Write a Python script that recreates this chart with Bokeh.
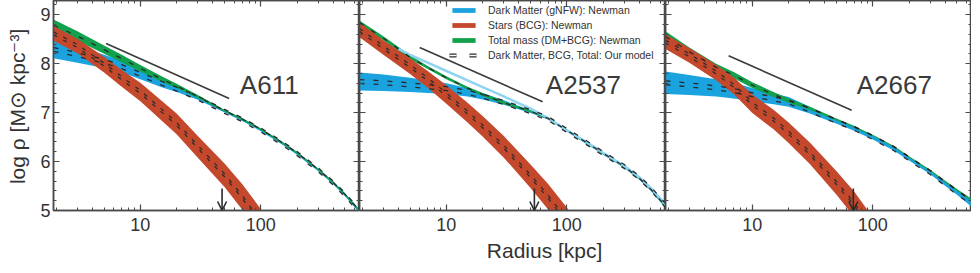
from bokeh.plotting import figure
from bokeh.layouts import row
from bokeh.models import (LogAxis, LinearAxis, FixedTicker, SingleIntervalTicker, Range1d,
                          Legend, LegendItem, Label, Arrow, OpenHead, PrintfTickFormatter)
from bokeh.embed import file_html
from bokeh.resources import INLINE

# ---------------- data (log10 density, radius in kpc) ----------------
R = [1.9, 3, 5, 7, 10, 15, 20, 30, 50, 70, 100, 150, 200, 300, 400, 500, 660]
R_STARS = [1.9, 3, 5, 7, 10, 15, 20, 30, 50, 70, 100, 150]

A611_DM_LO = [8.11, 8.02, 7.91, 7.82, 7.68, 7.52, 7.42, 7.26, 7.00, 6.83, 6.62, 6.35, 6.14, 5.80, 5.53, 5.29, 4.95]
A611_DM_HI = [8.47, 8.35, 8.18, 8.06, 7.88, 7.68, 7.54, 7.33, 7.05, 6.88, 6.67, 6.40, 6.19, 5.86, 5.59, 5.35, 5.02]
A611_TOT_LO = [8.67, 8.47, 8.20, 8.03, 7.84, 7.63, 7.50, 7.30, 7.02, 6.85, 6.64, 6.37, 6.16, 5.82, 5.55, 5.31, 4.98]
A611_TOT_HI = [8.90, 8.66, 8.37, 8.18, 7.97, 7.74, 7.59, 7.36, 7.06, 6.89, 6.68, 6.41, 6.20, 5.86, 5.59, 5.35, 5.02]
A611_BCG_LO = [8.47, 8.21, 7.82, 7.53, 7.23, 6.84, 6.56, 6.08, 5.48, 5.02, 4.47, 3.80]
A611_BCG_HI = [8.77, 8.51, 8.14, 7.87, 7.61, 7.24, 6.98, 6.52, 5.96, 5.54, 5.03, 4.40]

A2537_DM_LO = [7.45, 7.44, 7.42, 7.40, 7.38, 7.33, 7.27, 7.16, 6.99, 6.86, 6.61, 6.34, 6.14, 5.87, 5.63, 5.40, 5.05]
A2537_DM_HI = [7.82, 7.78, 7.71, 7.66, 7.60, 7.50, 7.40, 7.25, 7.05, 6.90, 6.66, 6.39, 6.19, 5.93, 5.70, 5.48, 5.15]
A2537_TOT_LO = [8.80, 8.48, 8.09, 7.89, 7.68, 7.47, 7.34, 7.17, 7.01, 6.86, 6.62, 6.35, 6.15, 5.88, 5.64, 5.41, 5.07]
A2537_TOT_HI = [8.88, 8.56, 8.17, 7.95, 7.74, 7.53, 7.40, 7.23, 7.05, 6.90, 6.66, 6.39, 6.19, 5.92, 5.68, 5.45, 5.11]
A2537_BCG_LO = [8.54, 8.18, 7.79, 7.51, 7.18, 6.80, 6.51, 6.08, 5.46, 5.02, 4.50, 3.85]
A2537_BCG_HI = [8.84, 8.48, 8.11, 7.85, 7.56, 7.20, 6.93, 6.52, 5.94, 5.54, 5.06, 4.45]
A2537_DM_ALT_R = [4, 5, 7, 10, 15, 20, 30, 50, 70, 100, 150, 200, 300, 400, 500, 660]
A2537_DM_ALT = [8.30, 8.18, 8.02, 7.85, 7.66, 7.52, 7.33, 7.08, 6.89, 6.64, 6.38, 6.18, 5.91, 5.68, 5.45, 5.12]

A2667_DM_LO = [7.38, 7.36, 7.33, 7.29, 7.23, 7.17, 7.12, 6.98, 6.77, 6.63, 6.45, 6.22, 6.02, 5.74, 5.50, 5.32, 5.08]
A2667_DM_HI = [7.84, 7.77, 7.68, 7.61, 7.50, 7.39, 7.32, 7.12, 6.87, 6.73, 6.53, 6.30, 6.09, 5.81, 5.58, 5.41, 5.24]
A2667_TOT_LO = [8.45, 8.15, 7.85, 7.70, 7.50, 7.32, 7.20, 7.06, 6.84, 6.69, 6.52, 6.29, 6.08, 5.80, 5.57, 5.40, 5.19]
A2667_TOT_HI = [8.66, 8.33, 8.00, 7.83, 7.62, 7.42, 7.29, 7.12, 6.88, 6.72, 6.55, 6.32, 6.11, 5.83, 5.61, 5.44, 5.24]
A2667_BCG_LO = [8.30, 8.02, 7.66, 7.38, 6.99, 6.66, 6.38, 5.95, 5.32, 4.87, 4.30, 3.65]
A2667_BCG_HI = [8.60, 8.32, 7.98, 7.72, 7.37, 7.06, 6.80, 6.39, 5.80, 5.39, 4.86, 4.25]

CLUSTERS = ["A611", "A2537", "A2667"]
LABEL_R = [67, 67, 73.5]
LABEL_Y = 7.555
SLOPE_R = [[5.2, 54.6], [6.0, 63.0], [6.35, 66.7]]
SLOPE_V = [[8.41, 7.29], [8.33, 7.22], [8.16, 7.05]]
ARROW_R = [47.7, 53.8, 68.9]
ARROW_TOP = 5.45
ARROW_BOTTOM = 5.0

X_MAJOR = [10, 100]
X_MINOR = [m * 10 ** e for e in range(0, 3) for m in range(2, 10)]

LEGEND_LABELS = ["Dark Matter (gNFW): Newman", "Stars (BCG): Newman",
                 "Total mass (DM+BCG): Newman", "Dark Matter, BCG, Total: Our model"]
X_LABEL = "\u00a0" * 11 + "Radius [kpc]"
Y_LABEL = "log \u03c1  [M\u2299 kpc\u207b\u00b3]"

PANELS = [
    (A611_DM_LO, A611_DM_HI, A611_TOT_LO, A611_TOT_HI, A611_BCG_LO, A611_BCG_HI),
    (A2537_DM_LO, A2537_DM_HI, A2537_TOT_LO, A2537_TOT_HI, A2537_BCG_LO, A2537_BCG_HI),
    (A2667_DM_LO, A2667_DM_HI, A2667_TOT_LO, A2667_TOT_HI, A2667_BCG_LO, A2667_BCG_HI),
]

# ---------------- style ----------------
FONT = "Liberation Sans"
AX = "#4a4a4a"
TXT = "#333333"
BLUE = "#1ba3df"
RED = "#c4482c"
GREEN = "#12a14c"
LIGHT = "#8fd4f2"
DASH = "#2a2a2a"
FRAME_W, FRAME_H = 306, 210
LEFT_B, BOTTOM_B = 53, 52


def style_axis(ax, show_labels):
    ax.axis_line_color = AX
    ax.axis_line_width = 1.5
    ax.major_tick_line_color = AX
    ax.minor_tick_line_color = AX
    ax.major_tick_line_width = 1.2
    ax.minor_tick_line_width = 1
    ax.major_tick_in = 6
    ax.major_tick_out = 0
    ax.minor_tick_in = 3
    ax.minor_tick_out = 0
    if show_labels:
        ax.major_label_text_font = FONT
        ax.major_label_text_font_size = "18px"
        ax.major_label_text_color = TXT
    else:
        ax.major_label_text_font_size = "1px"
        ax.major_label_text_alpha = 0
        ax.major_label_standoff = 0


def mid(lo, hi, off=0.0):
    return [(a + b) / 2 + off for a, b in zip(lo, hi)]


figs = []
for i, name in enumerate(CLUSTERS):
    dm_lo, dm_hi, tot_lo, tot_hi, bcg_lo, bcg_hi = PANELS[i]
    first = i == 0
    p = figure(frame_width=FRAME_W, frame_height=FRAME_H,
               x_axis_type="log", x_range=Range1d(1.9, 660), y_range=Range1d(5.0, 9.29),
               x_axis_location=None, y_axis_location=None,
               output_backend="svg", toolbar_location=None,
               min_border_left=LEFT_B if first else 0, min_border_right=0,
               min_border_top=0, min_border_bottom=BOTTOM_B)
    p.outline_line_color = AX
    p.outline_line_width = 1.5
    p.background_fill_color = "white"
    p.border_fill_color = "white"
    p.grid.visible = False

    # axes
    xb = LogAxis(ticker=FixedTicker(ticks=X_MAJOR, minor_ticks=X_MINOR),
                 formatter=PrintfTickFormatter(format="%d"))
    style_axis(xb, True)
    xb.major_label_standoff = 7
    if name == "A2537":
        xb.axis_label = X_LABEL
        xb.axis_label_text_font = FONT
        xb.axis_label_text_font_size = "21px"
        xb.axis_label_text_font_style = "normal"
        xb.axis_label_text_color = TXT
        xb.axis_label_standoff = 5
    p.add_layout(xb, "below")
    xt = LogAxis(ticker=FixedTicker(ticks=X_MAJOR, minor_ticks=X_MINOR))
    style_axis(xt, False)
    p.add_layout(xt, "above")
    yl = LinearAxis(ticker=SingleIntervalTicker(interval=1, num_minor_ticks=5))
    style_axis(yl, first)
    if first:
        yl.major_label_standoff = 3
        yl.axis_label = Y_LABEL
        yl.axis_label_text_font = FONT
        yl.axis_label_text_font_size = "21px"
        yl.axis_label_text_font_style = "normal"
        yl.axis_label_text_color = TXT
        yl.axis_label_standoff = 8
    p.add_layout(yl, "left")
    yr = LinearAxis(ticker=SingleIntervalTicker(interval=1, num_minor_ticks=5))
    style_axis(yr, False)
    p.add_layout(yr, "right")

    # bands (Newman)
    r_dm = p.varea(x=R, y1=dm_lo, y2=dm_hi, fill_color=BLUE)
    r_tot = p.varea(x=R, y1=tot_lo, y2=tot_hi, fill_color=GREEN)
    r_bcg = p.varea(x=R_STARS, y1=bcg_lo, y2=bcg_hi, fill_color=RED)
    if name == "A2537":
        p.line(x=A2537_DM_ALT_R, y=A2537_DM_ALT, line_color=LIGHT, line_width=2.5)

    # our model (dashed)
    for off in (-0.04, 0.04):
        p.line(x=R, y=mid(dm_lo, dm_hi, off), line_color=DASH, line_width=1.3, line_dash="5 9")
    p.line(x=R, y=mid(tot_lo, tot_hi), line_color=DASH, line_width=1.3, line_dash="5 9")
    for off in (-0.03, 0.03):
        p.line(x=R_STARS, y=mid(bcg_lo, bcg_hi, off), line_color=DASH, line_width=1.2,
               line_dash="4 7")

    # reference slope line
    p.line(x=SLOPE_R[i], y=SLOPE_V[i], line_color="#3a3a3a", line_width=1.6)

    # arrow
    p.add_layout(Arrow(end=OpenHead(size=9, line_color=DASH, line_width=1.6),
                       x_start=ARROW_R[i], y_start=ARROW_TOP, x_end=ARROW_R[i], y_end=ARROW_BOTTOM,
                       line_color=DASH, line_width=1.6))

    p.add_layout(Label(x=LABEL_R[i], y=LABEL_Y, text=name, text_font=FONT,
                       text_font_size="26px", text_color="#3a3a3a",
                       text_baseline="alphabetic", text_align="left"))

    if name == "A2537":
        lg_dark = p.line(x=[1.0], y=[1.0], line_color=DASH, line_width=4, line_dash="7 13")
        lg_white = p.line(x=[1.0], y=[1.0], line_color="white", line_width=1.3, line_dash="7 13")
        legend = Legend(items=[
            LegendItem(label=LEGEND_LABELS[0], renderers=[r_dm]),
            LegendItem(label=LEGEND_LABELS[1], renderers=[r_bcg]),
            LegendItem(label=LEGEND_LABELS[2], renderers=[r_tot]),
            LegendItem(label=LEGEND_LABELS[3], renderers=[lg_dark, lg_white]),
        ], location=(90, FRAME_H - 58 - 3))
        legend.border_line_color = None
        legend.background_fill_alpha = 0
        legend.label_text_font = FONT
        legend.label_text_font_size = "10.5px"
        legend.label_text_color = TXT
        legend.glyph_width = 29
        legend.glyph_height = 6
        legend.label_height = 13
        legend.label_standoff = 10
        legend.spacing = 2
        legend.padding = 0
        legend.margin = 0
        p.add_layout(legend)
    figs.append(p)

layout = row(*figs, spacing=0)
open("out.html", "w").write(file_html(layout, INLINE))
